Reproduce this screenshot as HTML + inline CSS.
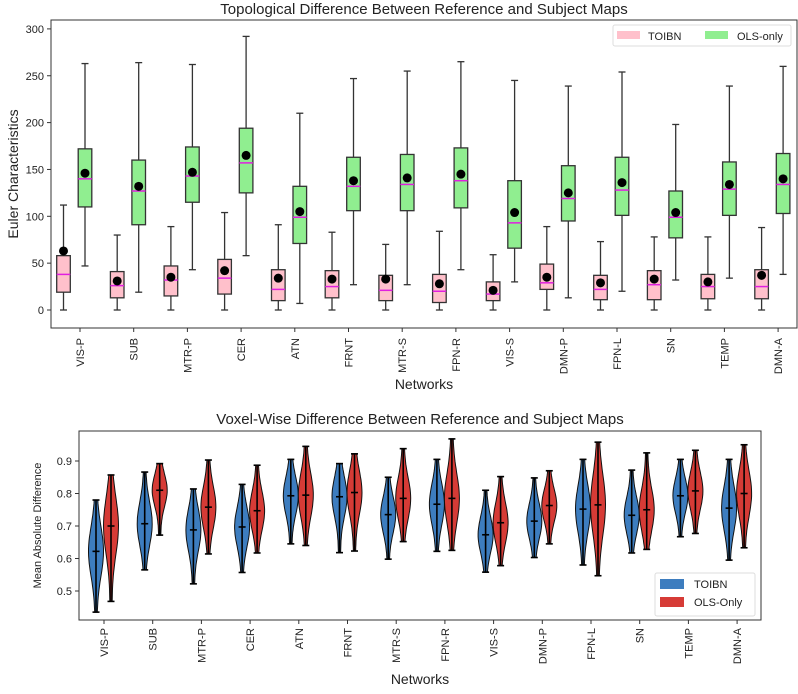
<!DOCTYPE html>
<html><head><meta charset="utf-8"><style>
body{margin:0;background:#fff;}
svg text{font-family:"Liberation Sans","DejaVu Sans",sans-serif;fill:#222;}
</style></head><body>
<svg id="fig" width="798" height="689" viewBox="0 0 798 689" xmlns="http://www.w3.org/2000/svg">
<g id="topchart"></g>
<g id="botchart"></g>
</svg>
<script>
const networks = ["VIS-P","SUB","MTR-P","CER","ATN","FRNT","MTR-S","FPN-R","VIS-S","DMN-P","FPN-L","SN","TEMP","DMN-A"];
// boxplot stats: [whiskerLo, q1, median, q3, whiskerHi, mean]
const toibnBox = [[0,19,38,58,112,63],[0,13,26,41,80,31],[0,15,32,47,89,35],[0,17,34,54,104,42],[0,10,22,43,91,34],[0,13,25,42,83,33],[0,10,21,37,70,33],[0,8,20,38,84,28],[0,10,17,30,59,21],[0,22,29,49,89,35],[0,11,22,37,73,29],[0,11,27,42,78,33],[0,12,25,38,78,30],[0,12,25,43,88,37]];
const olsBox = [[47,110,140,172,263,146],[19,91,127,160,264,132],[43,115,143,174,262,147],[58,125,157,194,292,165],[7,71,99,132,210,105],[27,106,132,163,247,138],[27,106,134,166,255,141],[43,109,138,173,265,145],[30,66,93,138,245,104],[13,95,119,154,239,125],[20,101,128,163,254,136],[32,77,99,127,198,104],[34,101,129,158,239,134],[38,103,134,167,260,140]];
const topTicks = [0,50,100,150,200,250,300];
// violin stats: [min, max, median]
const toibnViol = [[.435,.78,.622],[.565,.866,.707],[.522,.814,.688],[.557,.828,.697],[.645,.905,.793],[.618,.892,.79],[.598,.85,.735],[.622,.905,.767],[.558,.81,.673],[.603,.848,.715],[.58,.905,.752],[.617,.872,.733],[.667,.905,.793],[.595,.905,.755]];
const olsViol = [[.468,.857,.70],[.672,.892,.81],[.614,.903,.758],[.617,.887,.747],[.64,.945,.795],[.623,.922,.803],[.652,.938,.785],[.625,.968,.785],[.578,.852,.71],[.645,.87,.763],[.547,.958,.765],[.628,.925,.75],[.677,.933,.808],[.633,.95,.8]];
const botTicks = [0.5,0.6,0.7,0.8,0.9];

const NS="http://www.w3.org/2000/svg";
function mk(parent,tag,attrs,text){const e=document.createElementNS(NS,tag);for(const k in attrs)e.setAttribute(k,attrs[k]);if(text!==undefined)e.textContent=text;parent.appendChild(e);return e;}

// ---------- TOP ----------
const topG=document.getElementById('topchart');
const tX=i=>80+i*53.7, tY=v=>310-v*0.937;
const TL=51,TR=797,TT=20,TB=328;
let t=mk(topG,'text',{x:(TL+TR)/2,y:14,'text-anchor':'middle','font-size':15},"Topological Difference Between Reference and Subject Maps");


topTicks.forEach(v=>{
  const g=mk(topG,'g',{});
  
  
  mk(g,'line',{x1:TL-4,x2:TL,y1:tY(v),y2:tY(v),stroke:'#333'});
  mk(g,'text',{x:TL-7,y:tY(v)+4,'text-anchor':'end','font-size':11},String(v));
});
t=mk(topG,'text',{x:0,y:0,transform:`translate(18,${(TT+TB)/2}) rotate(-90)`,'text-anchor':'middle','font-size':14},"Euler Characteristics");


function drawBox(parent,cx,s,fill,name){
  const g=mk(parent,'g',{});
  
  
  const w=6.8;
  mk(g,'line',{x1:cx,x2:cx,y1:tY(s[0]),y2:tY(s[1]),stroke:'#333','stroke-width':1.3});
  mk(g,'line',{x1:cx,x2:cx,y1:tY(s[3]),y2:tY(s[4]),stroke:'#333','stroke-width':1.3});
  mk(g,'line',{x1:cx-3.5,x2:cx+3.5,y1:tY(s[0]),y2:tY(s[0]),stroke:'#333','stroke-width':1.3});
  mk(g,'line',{x1:cx-3.5,x2:cx+3.5,y1:tY(s[4]),y2:tY(s[4]),stroke:'#333','stroke-width':1.3});
  mk(g,'rect',{x:cx-w,y:tY(s[3]),width:2*w,height:tY(s[1])-tY(s[3]),fill:fill,stroke:'#333','stroke-width':1.3});
  mk(g,'line',{x1:cx-w,x2:cx+w,y1:tY(s[2]),y2:tY(s[2]),stroke:'#e020e0','stroke-width':1.5});
  mk(g,'circle',{cx:cx,cy:tY(s[5]),r:4.5,fill:'#000'});
}
networks.forEach((n,i)=>{
  drawBox(topG,tX(i)-16.5,toibnBox[i],'#ffc0cb','box-toibn-'+n.toLowerCase());
  drawBox(topG,tX(i)+5,olsBox[i],'#90ee90','box-ols-'+n.toLowerCase());
  const g=mk(topG,'g',{});
  
  
  mk(g,'line',{x1:tX(i),x2:tX(i),y1:TB,y2:TB+4,stroke:'#333'});
  mk(g,'text',{x:0,y:0,transform:`translate(${tX(i)+4},${TB+10}) rotate(-90)`,'text-anchor':'end','font-size':11},n);
});
mk(topG,'rect',{x:TL,y:TT,width:TR-TL,height:TB-TT,fill:'none',stroke:'#333','stroke-width':1});
t=mk(topG,'text',{x:(TL+TR)/2,y:389,'text-anchor':'middle','font-size':14},"Networks");


let lg=mk(topG,'g',{});


mk(lg,'rect',{x:613,y:25,width:178,height:21,rx:2,fill:'#fff',stroke:'#ddd'});
mk(lg,'rect',{x:617,y:31,width:23,height:8,fill:'#ffc0cb'});
mk(lg,'text',{x:648,y:40,'font-size':11},"TOIBN");
mk(lg,'rect',{x:705,y:31,width:23,height:8,fill:'#90ee90'});
mk(lg,'text',{x:737,y:40,'font-size':11},"OLS-only");

// ---------- BOTTOM ----------
const botG=document.getElementById('botchart');
const BL=79,BR=761,BT=431,BB=620;
const bX=i=>104+i*48.7, bY=v=>461+(0.9-v)*325;
t=mk(botG,'text',{x:(BL+BR)/2,y:424,'text-anchor':'middle','font-size':15},"Voxel-Wise Difference Between Reference and Subject Maps");


botTicks.forEach(v=>{
  const g=mk(botG,'g',{});
  
  
  mk(g,'line',{x1:BL-4,x2:BL,y1:bY(v),y2:bY(v),stroke:'#333'});
  mk(g,'text',{x:BL-7,y:bY(v)+4,'text-anchor':'end','font-size':11},v.toFixed(1));
});
t=mk(botG,'text',{x:0,y:0,transform:`translate(41,${(BT+BB)/2}) rotate(-90)`,'text-anchor':'middle','font-size':11},"Mean Absolute Difference");


function drawViolin(parent,cx,s,fill,name){
  const g=mk(parent,'g',{});
  
  
  const mn=s[0], mx=s[1], md=s[2], sd=(mx-mn)/4.5, N=30;
  const L=[],R=[];
  for(let k=0;k<=N;k++){
    const v=mn+(mx-mn)*k/N;
    const w=1+6.5*Math.exp(-0.5*Math.pow((v-md)/sd,2));
    L.push([cx-w,bY(v)]);R.push([cx+w,bY(v)]);
  }
  const pts=L.concat(R.reverse()).map(p=>p[0].toFixed(1)+','+p[1].toFixed(1)).join(' ');
  mk(g,'polygon',{points:pts,fill:fill,stroke:'#111','stroke-width':1});
  mk(g,'line',{x1:cx,x2:cx,y1:bY(mn),y2:bY(mx),stroke:'#000','stroke-width':1.6});
  [mn,mx,md].forEach(v=>mk(g,'line',{x1:cx-3.5,x2:cx+3.5,y1:bY(v),y2:bY(v),stroke:'#000','stroke-width':1.6}));
}
networks.forEach((n,i)=>{
  drawViolin(botG,bX(i)-8,toibnViol[i],'#3d7dbf','violin-toibn-'+n.toLowerCase());
  drawViolin(botG,bX(i)+7,olsViol[i],'#d63b36','violin-ols-'+n.toLowerCase());
  const g=mk(botG,'g',{});
  
  
  mk(g,'line',{x1:bX(i),x2:bX(i),y1:BB,y2:BB+4,stroke:'#333'});
  mk(g,'text',{x:0,y:0,transform:`translate(${bX(i)+4},${BB+8}) rotate(-90)`,'text-anchor':'end','font-size':11},n);
});
mk(botG,'rect',{x:BL,y:BT,width:BR-BL,height:BB-BT,fill:'none',stroke:'#333','stroke-width':1});
t=mk(botG,'text',{x:(BL+BR)/2,y:684,'text-anchor':'middle','font-size':14},"Networks");


lg=mk(botG,'g',{});


mk(lg,'rect',{x:655,y:573,width:100,height:43,rx:2,fill:'#fff',stroke:'#ddd'});
mk(lg,'rect',{x:660,y:579,width:24,height:10,fill:'#3d7dbf'});
mk(lg,'text',{x:694,y:588,'font-size':11},"TOIBN");
mk(lg,'rect',{x:660,y:597,width:24,height:10,fill:'#d63b36'});
mk(lg,'text',{x:694,y:606,'font-size':11},"OLS-Only");
</script>
</body></html>
